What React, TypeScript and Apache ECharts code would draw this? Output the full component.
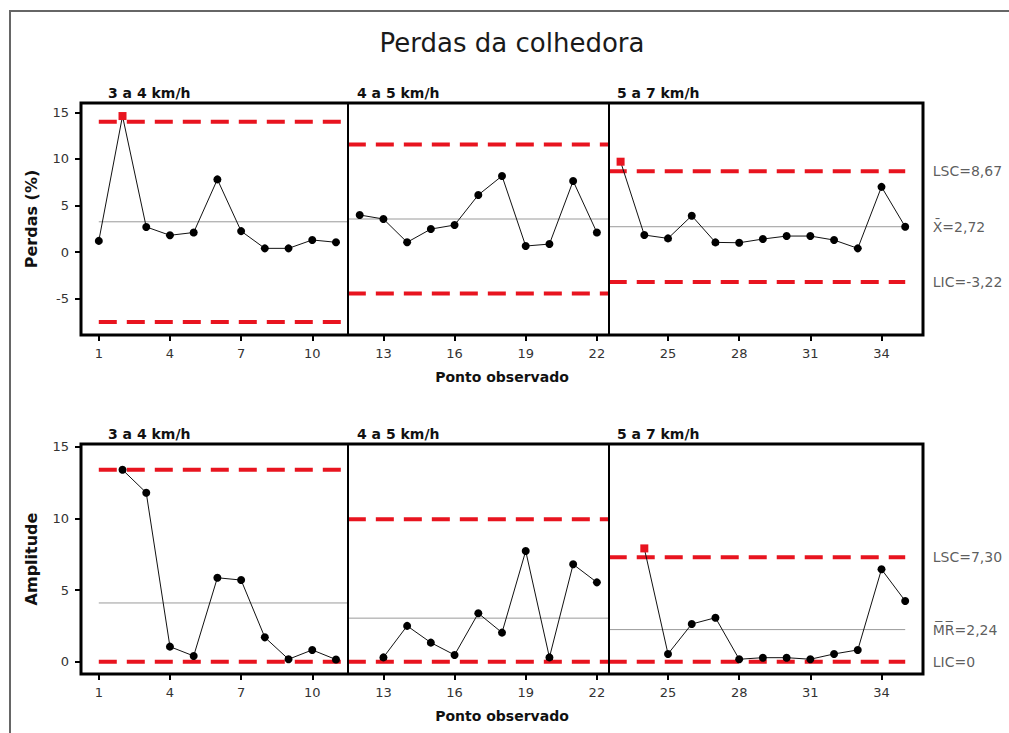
import React, { useEffect, useRef } from "react";
import * as echarts from "echarts";

// ---- data ----
const pontos = [1, 2, 3, 4, 5, 6, 7, 8, 9, 10, 11, 12, 13, 14, 15, 16, 17, 18, 19, 20, 21, 22, 23, 24, 25, 26, 27, 28, 29, 30, 31, 32, 33, 34, 35];
const perdas = [
  1.2, 14.6, 2.7, 1.8, 2.1, 7.8, 2.25, 0.4, 0.4, 1.3, 1.05,
  3.98, 3.55, 1.05, 2.47, 2.9, 6.13, 8.17, 0.65, 0.86, 7.63, 2.1,
  9.7, 1.83, 1.47, 3.9, 1.04, 1.0, 1.4, 1.72, 1.72, 1.29, 0.4, 7.0, 2.72,
];
const amplitude: (number | null)[] = [
  null, 13.4, 11.8, 1.05, 0.4, 5.86, 5.7, 1.7, 0.17, 0.82, 0.15,
  null, 0.3, 2.5, 1.33, 0.47, 3.38, 2.03, 7.73, 0.3, 6.8, 5.54,
  null, 7.91, 0.54, 2.63, 3.07, 0.17, 0.28, 0.28, 0.17, 0.54, 0.82, 6.45, 4.24,
];
const stageNames = ["3 a 4 km/h", "4 a 5 km/h", "5 a 7 km/h"];
const stageFirst = [1, 12, 23];
const stageLast = [11, 22, 35];
const stageBreaks = [11.5, 22.5];
const perdasLSC = [14.0, 11.55, 8.67];
const perdasMedia = [3.25, 3.55, 2.72];
const perdasLIC = [-7.5, -4.45, -3.22];
const ampLSC = [13.4, 9.95, 7.3];
const ampMedia = [4.1, 3.04, 2.24];
const ampLIC = [0, 0, 0];
const xTicks = [1, 4, 7, 10, 13, 16, 19, 22, 25, 28, 31, 34];
const perdasTicks = [-5, 0, 5, 10, 15];
const ampTicks = [0, 5, 10, 15];
const perdasLimitLabels = ["LSC=8,67", "X\u0304=2,72", "LIC=-3,22"];
const ampLimitLabels = ["LSC=7,30", "M\u0305R\u0305=2,24", "LIC=0"];
const perdasFora = [2, 23];
const ampFora = [24];

const RED = "#e8141f";
const FONT = "DejaVu Sans";

function buildSeries(g: number, values: (number | null)[], lsc: number[], media: number[], lic: number[], labels: string[], fora: number[]) {
  const series: any[] = [];
  const last = stageFirst.length - 1;
  for (let i = 0; i <= last; i++) {
    const x0 = i === 0 ? stageFirst[0] : stageBreaks[i - 1];
    const x1 = i === last ? stageLast[last] : stageBreaks[i];
    const limits: [number, string, number, any][] = [
      [lsc[i], RED, 4, [18, 10]],
      [lic[i], RED, 4, [18, 10]],
      [media[i], "#9a9a9a", 1, "solid"],
    ];
    limits.forEach(([v, color, width, type]) => {
      series.push({
        type: "line",
        xAxisIndex: g,
        yAxisIndex: g,
        data: [[x0, v], [x1, v]],
        symbol: "none",
        silent: true,
        z: 1,
        lineStyle: { color, width, type, cap: "butt" },
      });
    });
    const pts: any[] = [];
    for (let k = 0; k < pontos.length; k++) {
      const p = pontos[k];
      const v = values[k];
      if (p < stageFirst[i] || p > stageLast[i] || v === null) continue;
      if (fora.includes(p)) {
        pts.push({ value: [p, v], symbol: "rect", symbolSize: 8, itemStyle: { color: RED } });
      } else {
        pts.push([p, v]);
      }
    }
    series.push({
      type: "line",
      xAxisIndex: g,
      yAxisIndex: g,
      data: pts,
      symbol: "circle",
      symbolSize: 8,
      z: 3,
      lineStyle: { color: "#111", width: 1 },
      itemStyle: { color: "#000" },
    });
  }
  // stage dividers
  series.push({
    type: "line",
    xAxisIndex: g,
    yAxisIndex: g,
    data: [],
    z: 4,
    markLine: {
      silent: true,
      symbol: "none",
      label: { show: false },
      lineStyle: { color: "#000", width: 2, type: "solid" },
      data: stageBreaks.map((b) => ({ xAxis: b })),
    },
  });
  // right-hand limit labels for the last stage
  const lastVals = [lsc[last], media[last], lic[last]];
  series.push({
    type: "scatter",
    xAxisIndex: g,
    yAxisIndex: g,
    symbolSize: 1,
    itemStyle: { color: "transparent" },
    silent: true,
    data: lastVals.map((v, j) => ({
      value: [stageLast[last], v],
      label: {
        show: true,
        position: "right",
        distance: 27,
        formatter: labels[j],
        fontFamily: FONT,
        fontSize: 14,
        color: "#333",
      },
    })),
  });
  return series;
}

export default function App() {
  const ref = useRef<HTMLDivElement>(null);
  useEffect(() => {
    if (!ref.current) return;
    const chart = echarts.init(ref.current, null, { renderer: "svg" });
    const xAxisBase = (gi: number) => ({
      type: "value",
      gridIndex: gi,
      min: 0.25,
      max: 35.75,
      name: "Ponto observado",
      nameLocation: "middle",
      nameGap: 35,
      nameTextStyle: { fontFamily: FONT, fontWeight: "bold", fontSize: 14, color: "#111" },
      axisLine: { show: false, onZero: false },
      axisTick: { show: true, customValues: xTicks, length: 6, lineStyle: { color: "#000", width: 2 } },
      axisLabel: { customValues: xTicks, margin: 12, fontFamily: FONT, fontSize: 13, color: "#333" },
      splitLine: { show: false },
    });
    const yAxisBase = (gi: number, min: number, max: number, ticks: number[], name: string) => ({
      type: "value",
      gridIndex: gi,
      min,
      max,
      name,
      nameLocation: "middle",
      nameGap: 42,
      nameTextStyle: { fontFamily: FONT, fontWeight: "bold", fontSize: 16, color: "#111" },
      axisLine: { show: false, onZero: false },
      axisTick: { show: true, customValues: ticks, length: 6, lineStyle: { color: "#000", width: 2 } },
      axisLabel: { customValues: ticks, margin: 12, fontFamily: FONT, fontSize: 13, color: "#333" },
      splitLine: { show: false },
    });
    const stageTitleX = [108, 357, 617];
    const graphics: any[] = [
      {
        type: "rect",
        shape: { x: 10, y: 11, width: 1100, height: 800 },
        style: { fill: "none", stroke: "#666", lineWidth: 2 },
        silent: true,
      },
      {
        type: "text",
        x: 512,
        y: 43,
        style: {
          text: "Perdas da colhedora",
          fontFamily: FONT,
          fontSize: 26,
          fill: "#1a1a1a",
          textAlign: "center",
          textVerticalAlign: "middle",
        },
      },
    ];
    [93, 434].forEach((yy) => {
      stageNames.forEach((n, i) => {
        graphics.push({
          type: "text",
          x: stageTitleX[i],
          y: yy,
          style: {
            text: n,
            fontFamily: FONT,
            fontSize: 14,
            fontWeight: "bold",
            fill: "#111",
            textAlign: "left",
            textVerticalAlign: "middle",
          },
        });
      });
    });
    chart.setOption({
      animation: false,
      backgroundColor: "#fff",
      grid: [
        { left: 81, top: 103, width: 842, height: 232, show: true, borderColor: "#000", borderWidth: 3, backgroundColor: "transparent" },
        { left: 81, top: 444, width: 842, height: 230, show: true, borderColor: "#000", borderWidth: 3, backgroundColor: "transparent" },
      ],
      xAxis: [xAxisBase(0), xAxisBase(1)],
      yAxis: [
        yAxisBase(0, -8.9, 16, perdasTicks, "Perdas (%)"),
        yAxisBase(1, -0.86, 15.2, ampTicks, "Amplitude"),
      ],
      series: [
        ...buildSeries(0, perdas, perdasLSC, perdasMedia, perdasLIC, perdasLimitLabels, perdasFora),
        ...buildSeries(1, amplitude, ampLSC, ampMedia, ampLIC, ampLimitLabels, ampFora),
      ],
      graphic: graphics,
    });
    return () => chart.dispose();
  }, []);
  return (
    <div
      ref={ref}
      style={{ position: "fixed", left: 0, top: 0, width: 1009, height: 733, background: "#fff" }}
    />
  );
}
